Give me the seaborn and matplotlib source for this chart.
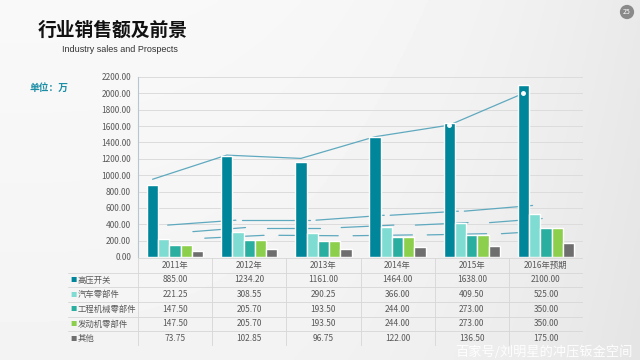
import numpy as np
import pandas as pd
import matplotlib
matplotlib.use("Agg")
import matplotlib.pyplot as plt
import seaborn as sns

years = ["2011年", "2012年", "2013年", "2014年", "2015年", "2016年预期"]
series = ["高压开关", "汽车零部件", "工程机械零部件", "发动机零部件", "其他"]
hv_switch = [885.00, 1234.20, 1161.00, 1464.00, 1638.00, 2100.00]
auto_parts = [221.25, 308.55, 290.25, 366.00, 409.50, 525.00]
machinery_parts = [147.50, 205.70, 193.50, 244.00, 273.00, 350.00]
engine_parts = [147.50, 205.70, 193.50, 244.00, 273.00, 350.00]
others = [73.75, 102.85, 96.75, 122.00, 136.50, 175.00]

# trend lines drawn over the bars
trend_main = [950, 1245, 1205, 1470, 1612, 2000]
trend_a = [390, 450, 450, 510, 560, 630]
trend_b = [310, 360, 360, 390, 420, 470]
trend_c = [230, 265, 260, 270, 285, 330]

colors = ["#00869b", "#7fdcd2", "#2aaea0", "#8ccf4d", "#6e6e6e"]
line_color = "#5fa9bf"
gray_text = "#595959"

sns.set_style("white")
plt.rcParams['font.family'] = ['Noto Sans CJK SC', 'DejaVu Sans']

values = [hv_switch, auto_parts, machinery_parts, engine_parts, others]
df = pd.DataFrame({
    "year": years * len(series),
    "series": [s for s in series for _ in years],
    "value": [v for vals in values for v in vals],
})

fig = plt.figure(figsize=(6.4, 3.6), dpi=100)
fig.patch.set_facecolor("#f1f1f1")

# soft background
bg = fig.add_axes([0, 0, 1, 1], zorder=-5)
gx = np.linspace(0, 1, 200)
gy = np.linspace(0, 1, 120)
X, Y = np.meshgrid(gx, gy)
shade = 0.975 - 0.06 * X ** 3 - 0.02 * Y
bg.imshow(shade, cmap="gray", vmin=0, vmax=1, aspect="auto", extent=[0, 1, 0, 1])
bg.axis("off")

W, H = 640, 360
ax = fig.add_axes([138 / W, 1 - 257 / H, 445 / W, 180 / H])
ax.patch.set_alpha(0)
sns.barplot(data=df, x="year", y="value", hue="series", order=years,
            hue_order=series, palette=colors, width=0.76, saturation=1,
            legend=False, ax=ax, zorder=3)
ax.set_ylim(0, 2200)
ax.set_xlim(-0.5, 5.5)
ax.set_yticks(np.arange(0, 2201, 200))
ax.set_yticklabels([f"{v:.2f}" for v in np.arange(0, 2201, 200)])
ax.tick_params(axis="y", length=0, labelsize=6, labelcolor=gray_text, pad=5)
ax.set_xticks([])
ax.set_xlabel("")
ax.set_ylabel("")
ax.grid(axis="y", color="#dcdcdc", lw=0.7, zorder=0)
ax.set_axisbelow(True)
for s in ["top", "right", "bottom"]:
    ax.spines[s].set_visible(False)
ax.spines["left"].set_color("#b9c6d0")
ax.spines["left"].set_linewidth(0.8)

# main trend line sits behind the tall bars
first_x = [p.get_x() + p.get_width() / 2 for p in ax.containers[0]]
ax.plot(first_x, trend_main, color=line_color, lw=0.9, zorder=2)
ax.plot(first_x, trend_main, ls="none", marker="o", ms=2.5, mfc="white",
        mec="white", markevery=[4, 5], zorder=5)

# broken trend lines for the smaller series
for vals, (o0, o1) in [(trend_a, (-0.1, 0.82)), (trend_b, (0.24, 0.95)),
                       (trend_c, (0.4, 1.2))]:
    for i in range(len(vals) - 1):
        ax.plot([i + o0, i + o1], [vals[i], vals[i + 1]],
                color=line_color, lw=0.9, zorder=2)

# data table under the chart
unit = 445 / 6
lab_w = 70 / unit
tax = fig.add_axes([68 / W, 1 - 346 / H, (583 - 68) / W, 88 / H])
tax.patch.set_alpha(0)
tax.set_xlim(-0.5 - lab_w, 5.5)
tax.set_ylim(6, 0)
tax.axis("off")
grid_c = "#d6d6d6"
for k in range(7):
    tax.plot([-0.5 + k, -0.5 + k], [0, 6], color=grid_c, lw=0.6)
for r in range(7):
    tax.plot([-0.5 - lab_w if r > 0 else -0.5, 5.5], [r, r], color=grid_c, lw=0.6)
for j, yr in enumerate(years):
    tax.text(j, 0.5, yr, ha="center", va="center", fontsize=6, color=gray_text)
for r, (name, vals, c) in enumerate(zip(series, values, colors), start=1):
    tax.text(-0.5 - lab_w + 0.03, r + 0.5, "■", ha="left", va="center",
             fontsize=4.5, color=c)
    tax.text(-0.5 - lab_w + 0.13, r + 0.5, name, ha="left", va="center",
             fontsize=6, color=gray_text)
    for j, v in enumerate(vals):
        tax.text(j, r + 0.5, f"{v:.2f}", ha="center", va="center",
                 fontsize=6, color=gray_text)

# titles and decorations
fig.text(38 / W, 1 - 30 / H, "行业销售额及前景", fontsize=13.5, weight="bold",
         color="#111111", va="center", ha="left")
fig.text(62 / W, 1 - 50 / H, "Industry sales and Prospects", fontsize=6.5,
         color="#333333", va="center", ha="left",
         family=["Liberation Sans", "DejaVu Sans"])
fig.text(30 / W, 1 - 88 / H, "单位：万", fontsize=7, weight="bold",
         color="#1b8ea6", va="center", ha="left")
fig.text(627 / W, 1 - 12 / H, "25", fontsize=5, color="white", ha="center",
         va="center", bbox=dict(boxstyle="circle,pad=0.45", fc="#8a8a8a", ec="none"))
fig.text(633 / W, 1 - 352 / H, "百家号/刘明星的冲压钣金空间", fontsize=9.5,
         color="white", alpha=0.95, ha="right", va="center")

fig.savefig("out.png", dpi=100, facecolor=fig.get_facecolor())
